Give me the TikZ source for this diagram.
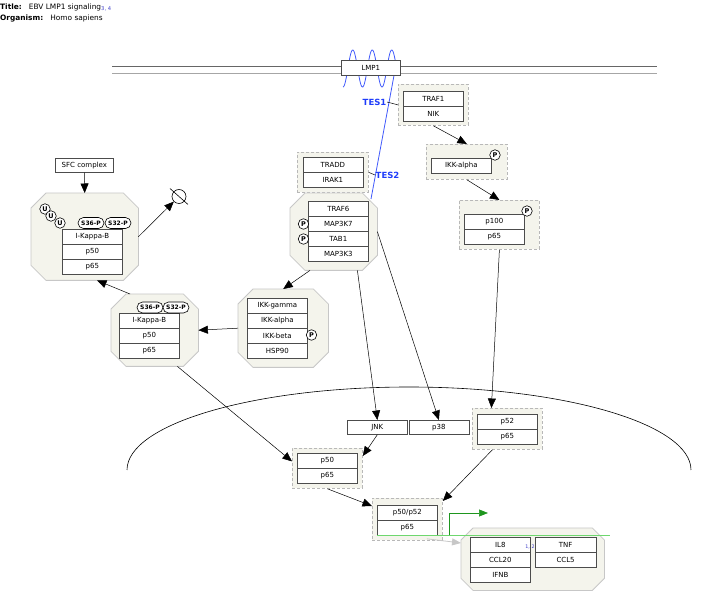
\documentclass[tikz,border=0pt]{standalone}
\usepackage{fontspec}
\setmainfont{DejaVu Sans}
\usetikzlibrary{arrows.meta,calc}
\definecolor{cfill}{RGB}{244,244,236}
\definecolor{tesblue}{RGB}{30,60,250}
\definecolor{refblue}{RGB}{60,60,200}
\definecolor{gdark}{RGB}{30,150,30}
\definecolor{glight}{RGB}{110,215,110}
\newcommand{\octagonof}[2]{\draw[octa] ([xshift=#2]#1.north west) -- ([xshift=-#2]#1.north east) -- ([yshift=-#2]#1.north east) -- ([yshift=#2]#1.south east) -- ([xshift=-#2]#1.south east) -- ([xshift=#2]#1.south west) -- ([yshift=#2]#1.south west) -- ([yshift=-#2]#1.north west) -- cycle;}
\begin{document}
\begin{tikzpicture}[x=1pt,y=-1pt,
  row/.style={draw=black!70, fill=white, line width=0.7pt, minimum width=60pt, minimum height=15pt, inner sep=0pt, anchor=north west, font=\fontsize{7}{8}\selectfont},
  cpx/.style={draw=black!28, dash pattern=on 3pt off 2pt, fill=cfill, line width=0.8pt, inner sep=0pt, anchor=north west},
  ghost/.style={inner sep=0pt, anchor=north west},
  octa/.style={draw=black!22, fill=cfill, line width=0.8pt},
  arr/.style={-{Triangle[length=9.5pt,width=8pt]}, line width=0.5pt},
  pmark/.style={circle, draw, fill=white, line width=0.6pt, inner sep=0pt, minimum size=10.5pt, font=\fontsize{6.5}{6.5}\selectfont\bfseries},
  smark/.style={rectangle, rounded corners=5.5pt, draw, fill=white, line width=0.6pt, inner sep=0.3pt, minimum width=26pt, minimum height=11pt, font=\fontsize{6}{6}\selectfont\bfseries},
  tes/.style={text=tesblue, font=\fontsize{8.5}{9}\selectfont\bfseries, inner sep=0.5pt},
]
\useasboundingbox (0,0) rectangle (702,601);

% title
\node[anchor=west, inner sep=0pt, font=\fontsize{7.4}{8}\selectfont] (title) at (0,7.5) {\textbf{Title:}\ \ \ EBV LMP1 signaling\textcolor{refblue}{\raisebox{-1.6pt}{\fontsize{5.2}{5.5}\selectfont 3, 4}}};
\node[anchor=west, inner sep=0pt, font=\fontsize{7.4}{8}\selectfont] (organism) at (0,18) {\textbf{Organism:}\ \ \ Homo sapiens};

% nucleus
\draw[line width=0.6pt] (127,470) arc[start angle=180, end angle=360, x radius=282, y radius=83];

% membrane
\draw[black!60, line width=0.9pt] (112,66.5) -- (657,66.5);
\draw[black!35, line width=0.9pt] (112,73) -- (657,73);

% LMP1 helix and tail
\coordinate (lmpend) at (371,199);
\draw[tesblue!85, line width=0.8pt, domain=0:53, samples=100, variable=\t] plot ({343+\t},{68.5+18.5*cos(18.4615*\t)}) -- (lmpend);
\node[row, minimum width=59pt] (lmp1) at (341,60) {LMP1};

% TES labels
\node[tes, anchor=west] (tes1) at (362,102) {TES1};
\node[tes, anchor=west] (tes2) at (375,175) {TES2};

% TRAF1 / NIK
\node[cpx, minimum width=70pt, minimum height=41pt] (traf1c) at (398,84) {};
\node[row] (traf1) at (403,91) {TRAF1};
\node[row] (nik) at (403,106) {NIK};

% IKK-alpha
\node[cpx, minimum width=81pt, minimum height=35pt] (ikkac) at (426,144) {};
\node[row] (ikka1) at (431,158) {IKK-alpha};
\node[pmark] (pika) at (495,155) {P};

% p100 / p65
\node[cpx, minimum width=80pt, minimum height=49pt] (p100c) at (459,200) {};
\node[row] (p100) at (464,214) {p100};
\node[row] (p65a) at (464,229) {p65};
\node[pmark] (pp100) at (527,211) {P};

% TRADD / IRAK1
\node[cpx, minimum width=71pt, minimum height=40pt] (tradc) at (297,152) {};
\node[row] (tradd) at (302.5,157) {TRADD};
\node[row] (irak1) at (302.5,172) {IRAK1};

% TRAF6 complex
\node[ghost, minimum width=87pt, minimum height=77pt] (traf6c) at (290,193) {};
\octagonof{traf6c}{15pt}
\node[row] (traf6) at (308,201) {TRAF6};
\node[row] (map3k7) at (308,216) {MAP3K7};
\node[row] (tab1) at (308,231) {TAB1};
\node[row] (map3k3) at (308,246) {MAP3K3};
\node[pmark] (pm7) at (303.5,224) {P};
\node[pmark] (ptab) at (303.5,239) {P};

% SFC complex
\node[row, minimum width=58pt, minimum height=14pt] (sfc) at (55,158) {SFC complex};

% I-Kappa-B complex (top)
\node[ghost, minimum width=107pt, minimum height=87pt] (ikb1) at (31,193) {};
\octagonof{ikb1}{15pt}
\node[row] (ikba) at (62,229) {I-Kappa-B};
\node[row] (p50a) at (62,244) {p50};
\node[row] (p65b) at (62,259) {p65};
\node[pmark] (u1) at (45,209) {U};
\node[pmark] (u2) at (51,216) {U};
\node[pmark] (u3) at (60,223) {U};
\node[smark] (s36a) at (91,223) {S36-P};
\node[smark] (s32a) at (118,223) {S32-P};

% degradation
\node[circle, draw, line width=0.6pt, minimum size=14pt, inner sep=0pt] (deg) at (179,196.5) {};
\draw[line width=0.6pt] ([shift={(-9,-8)}]deg.center) -- ([shift={(9,8)}]deg.center);

% I-Kappa-B complex (middle)
\node[ghost, minimum width=87pt, minimum height=72pt] (ikb2) at (111,294) {};
\octagonof{ikb2}{15pt}
\node[row] (ikbb) at (119,313) {I-Kappa-B};
\node[row] (p50b) at (119,328) {p50};
\node[row] (p65c) at (119,343) {p65};
\node[smark] (s36b) at (150,307.5) {S36-P};
\node[smark] (s32b) at (176,307.5) {S32-P};

% IKK complex
\node[ghost, minimum width=90pt, minimum height=78pt] (ikkc) at (238,289) {};
\octagonof{ikkc}{15pt}
\node[row] (ikkg) at (247,298) {IKK-gamma};
\node[row] (ikka2) at (247,313) {IKK-alpha};
\node[row] (ikkb) at (247,328) {IKK-beta};
\node[row] (hsp90) at (247,343) {HSP90};
\node[pmark] (pikb) at (311.5,335) {P};

% JNK, p38
\node[row, minimum height=14pt] (jnk) at (347,420) {JNK};
\node[row, minimum height=14pt] (p38) at (408.5,420) {p38};

% p52 / p65
\node[cpx, minimum width=70pt, minimum height=41pt] (p52c) at (472,408) {};
\node[row] (p52) at (477,414) {p52};
\node[row] (p65d) at (477,429) {p65};

% p50 / p65
\node[cpx, minimum width=70pt, minimum height=40pt] (p50c) at (292,448) {};
\node[row] (p50c1) at (297,453) {p50};
\node[row] (p65e) at (297,468) {p65};

% p50/p52 / p65
\node[cpx, minimum width=70pt, minimum height=42pt] (p5052c) at (372,498) {};
\node[row] (p5052) at (377,505) {p50/p52};
\node[row] (p65f) at (377,520) {p65};

% target genes
\node[ghost, minimum width=143pt, minimum height=62pt] (genes) at (461,528) {};
\octagonof{genes}{12pt}

% transcription line (behind gene boxes)
\coordinate (tss) at (377,535.5);
\coordinate (gend) at (610,535.5);
\coordinate (tsup) at (449,535.5);
\coordinate (tsarrow) at (488,513);
\draw[glight, line width=0.6pt] (tss) -- (gend);

\node[row] (il8) at (470,537) {IL8};
\node[row] (ccl20) at (470,552) {CCL20};
\node[row] (ifnb) at (470,567) {IFNB};
\node[row, minimum width=60.5pt] (tnf) at (535,537) {TNF};
\node[row, minimum width=60.5pt] (ccl5) at (535,552) {CCL5};
\node[font=\fontsize{4.8}{5}\selectfont, text=refblue, inner sep=0pt] (ref12) at (530,547) {1, 2};

% connectors
\draw[line width=0.5pt] (tes1.east) -- (traf1c.west);
\draw[line width=0.5pt] (tradc.east) -- (tes2.west);
\draw[arr] (traf1c.south) -- (ikkac.north);
\draw[arr] (ikkac.south) -- (p100c.north);
\draw[arr] (p100c.south) -- ([xshift=-16pt]p52c.north);
\draw[arr] (sfc.south) -- (ikb1.north);
\draw[arr] (ikb1.east) -- (deg);
\draw[arr] ([xshift=19pt]ikb2.north west) -- ([xshift=66pt]ikb1.south west);
\draw[arr] ([xshift=20pt]traf6c.south west) -- (ikkc.north);
\draw[arr] (ikkc.west) -- (ikb2.east);
\draw[arr] ([xshift=-21pt]ikb2.south east) -- ([yshift=7pt]p50c.west);
\draw[arr] ([xshift=-20pt]traf6c.south east) -- (jnk.north);
\draw[arr] (traf6c.east) -- (p38.north);
\draw[arr] (jnk.south) -- ([yshift=-8pt]p50c.north east);
\draw[arr] (p50c.south) -- ([yshift=-8pt]p5052c.north west);
\draw[arr] ([xshift=-15pt]p52c.south) -- ([yshift=-3pt]p5052c.north east);
\draw[black!22, line width=0.8pt, -{Triangle[length=9pt,width=7pt]}] ([shift={(-16,-2)}]p5052c.south east) -- ([yshift=-15pt]genes.north west);
\draw[gdark, line width=0.6pt, -{Triangle[length=9pt,width=7pt]}] (tsup) |- (tsarrow);

\end{tikzpicture}
\end{document}
